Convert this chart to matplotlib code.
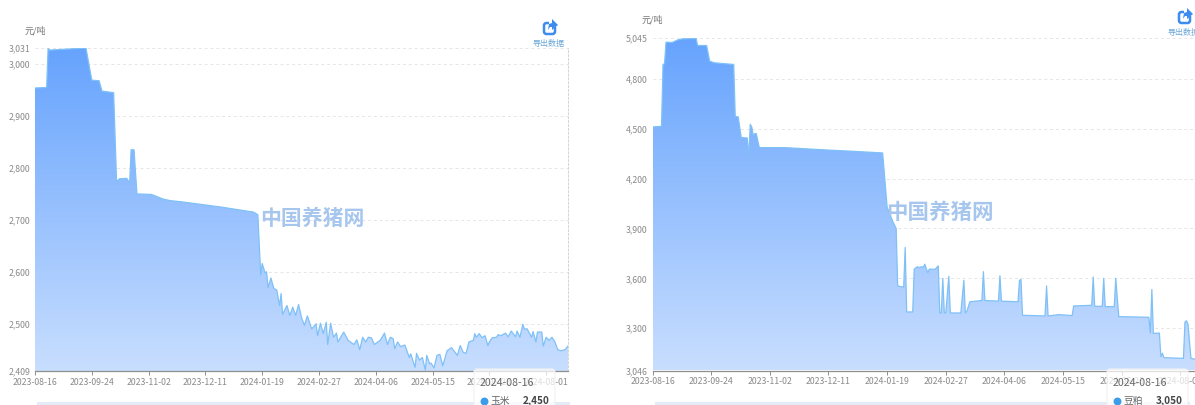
import numpy as np
import pandas as pd
import matplotlib
matplotlib.use("Agg")
import matplotlib.pyplot as plt
from matplotlib.colors import LinearSegmentedColormap
from matplotlib.patches import FancyBboxPatch, Polygon, Rectangle

plt.rcParams['font.family'] = ['Noto Sans CJK SC', 'DejaVu Sans']

W, H = 1195, 405

start = pd.Timestamp("2023-08-16")
tick_dates = ["2023-08-16", "2023-09-24", "2023-11-02", "2023-12-11", "2024-01-19",
              "2024-02-27", "2024-04-06", "2024-05-15", "2024-06-23", "2024-08-01"]

# corn, days since start and price
corn_days = [0, 8, 9, 10, 23, 35, 39, 44, 46, 54, 56, 58, 63, 65, 66, 68, 70, 80, 88, 93, 100, 127, 150, 153,
             155, 156, 158, 159, 160, 162, 164, 166, 168, 169, 170, 173, 175, 177, 179, 181, 183, 185, 187,
             190, 193, 194, 196, 198, 200, 201, 203, 205, 207, 208, 212, 215, 219, 221, 223, 225, 227, 229,
             231, 233, 237, 240, 242, 244, 246, 247, 249, 251, 254, 257, 258, 261, 262, 264, 266, 268, 269,
             271, 272, 274, 276, 278, 280, 283, 286, 290, 292, 294, 296, 298, 301, 302, 303, 305, 307, 309,
             311, 312, 314, 317, 318, 320, 323, 325, 327, 330, 331, 333, 335, 336, 338, 341, 342, 344, 345,
             348, 349, 351, 353, 355, 357, 359, 361, 364, 366]
corn_prices = [2954, 2955, 3030, 3027, 3029, 3031, 2969, 2968, 2948, 2945, 2774, 2779, 2780, 2771, 2835, 2835,
               2750, 2749, 2740, 2737, 2735, 2725, 2715, 2710,
               2594, 2616, 2598, 2600, 2570, 2588, 2568, 2565, 2535, 2558, 2518, 2535, 2516, 2532, 2516, 2537,
               2512, 2497, 2515, 2490, 2500, 2477, 2501, 2481, 2503, 2460, 2501, 2474, 2482, 2465, 2484, 2468,
               2460, 2469, 2450, 2474, 2465, 2474, 2473, 2460, 2468, 2482, 2460, 2474, 2471, 2452, 2465, 2456,
               2459, 2435, 2442, 2416, 2443, 2430, 2435, 2411, 2439, 2423, 2424, 2415, 2439, 2441, 2419, 2448,
               2454, 2439, 2458, 2445, 2443, 2465, 2468, 2481, 2474, 2481, 2473, 2477, 2458, 2465, 2473, 2474,
               2479, 2477, 2482, 2475, 2486, 2475, 2486, 2474, 2499, 2490, 2490, 2474, 2485, 2465, 2484, 2484,
               2457, 2474, 2468, 2474, 2465, 2450, 2448, 2450, 2457]
corn_ticks = [2409, 2500, 2600, 2700, 2800, 2900, 3000, 3031]

# soybean meal
meal_days = [0, 6, 7, 8, 9, 13, 17, 20, 29, 30, 36, 38, 41, 54, 55, 57, 59, 63, 64, 65, 66, 67, 68, 69, 71, 88,
             111, 133, 153, 156, 160, 162, 163, 167, 168, 169, 173, 174, 176, 177, 179, 180, 181, 183, 184, 188,
             190, 191, 192, 193, 194, 195, 197, 198, 205, 207, 208, 209, 211, 219, 220, 221, 230, 231, 232, 243,
             244, 245, 246, 261, 262, 263, 270, 279, 280, 292, 293, 294, 299, 300, 301, 307, 308, 310, 330, 331,
             332, 333, 337, 338, 339, 340, 353, 354, 355, 356, 358, 360, 365, 366]
meal_prices = [4510, 4514, 4886, 4890, 5020, 5018, 5034, 5040, 5042, 5000, 5000, 4906, 4896, 4886, 4574, 4570,
               4446, 4444, 4330, 4526, 4510, 4460, 4470, 4470, 4386, 4386, 4374, 4364, 4354, 4027, 3937, 3900,
               3554, 3547, 3786, 3398, 3398, 3655, 3670, 3665, 3670, 3665, 3685, 3634, 3655, 3655, 3675, 3392,
               3392, 3600, 3392, 3392, 3612, 3392, 3392, 3588, 3392, 3402, 3459, 3467, 3640, 3467, 3463, 3616,
               3463, 3459, 3588, 3594, 3378, 3374, 3554, 3374, 3382, 3376, 3434, 3438, 3608, 3432, 3432, 3600,
               3430, 3430, 3600, 3370, 3366, 3271, 3533, 3269, 3271, 3129, 3150, 3123, 3119, 3337, 3345, 3325,
               3119, 3115, 3115, 3050]
meal_ticks = [3046, 3300, 3600, 3900, 4200, 4500, 4800, 5045]

tick_days = [(pd.Timestamp(d) - start).days for d in tick_dates]
grad = LinearSegmentedColormap.from_list("g", ["#c8deff", "#66a3fd"])
LABEL = "#8a8a8a"


def draw_panel(fig, box, days, prices, yticks):
    # box is left, top, right, bottom in pixels
    l, t, r, b = box
    ax = fig.add_axes([l / W, 1 - b / H, (r - l) / W, (b - t) / H])
    ax.set_xlim(0, 366)
    ax.set_ylim(yticks[0], yticks[-1])
    for s in ["top", "left"]:
        ax.spines[s].set_visible(False)
    ax.spines["right"].set_color("#d4d4d4")
    ax.spines["right"].set_linestyle((0, (2, 2)))
    ax.spines["right"].set_linewidth(0.7)
    ax.spines["bottom"].set_color("#8f8f8f")
    ax.spines["bottom"].set_linewidth(0.9)

    ax.set_yticks(yticks)
    ax.set_yticklabels([f"{v:,}" for v in yticks])
    ax.set_xticks(tick_days)
    ax.set_xticklabels(tick_dates)
    ax.tick_params(axis="y", length=0, pad=3.5, labelsize=6.3, labelcolor=LABEL)
    ax.tick_params(axis="x", length=3, width=0.7, color="#8f8f8f", pad=2, labelsize=6.3, labelcolor=LABEL)
    ax.grid(axis="y", color="#e6e6e6", linestyle=(0, (3, 3)), linewidth=0.7)
    ax.set_axisbelow(True)

    poly = ax.fill_between(days, prices, yticks[0], facecolor="none", edgecolor="none")
    img = ax.imshow(np.linspace(0, 1, 256)[:, None], cmap=grad, origin="lower", aspect="auto",
                    extent=(0, 366, yticks[0], max(prices)), zorder=2)
    img.set_clip_path(poly.get_paths()[0], transform=ax.transData)
    ax.set_xlim(0, 366)
    ax.set_ylim(yticks[0], yticks[-1])
    ax.plot(days, prices, color="#7fc1f6", linewidth=0.9, zorder=3)
    return ax


def export_icon(ov, cx, cy, text_x):
    # share icon and label, top right of each chart
    ov.add_patch(FancyBboxPatch((cx - 6, cy - 4), 11, 11, boxstyle="round,pad=0,rounding_size=2.5",
                                fc="white", ec="#3f8cf0", lw=1.8))
    ov.add_patch(Rectangle((cx - 1, cy - 8), 9, 8, fc="white", ec="none"))
    ov.add_patch(Polygon([(cx - 2, cy + 3), (cx - 1, cy - 3), (cx + 2, cy - 4), (cx + 2, cy - 8), (cx + 8, cy - 2),
                          (cx + 2, cy + 3), (cx + 2, cy), (cx, cy)], fc="#3f8cf0", ec="none"))
    ov.text(text_x, cy + 16.5, "导出数据", color="#6aa6d8", fontsize=5.8, ha="left", va="center")


def tooltip(ov, x0, date, name, value):
    ov.add_patch(FancyBboxPatch((x0, 369), 81, 50, boxstyle="round,pad=0,rounding_size=3",
                                fc=(1, 1, 1, 0.72), ec="#f1f1f1", lw=0.8, zorder=5))
    ov.text(x0 + 6, 383, date, color="#666666", fontsize=7.6, ha="left", va="center", zorder=6)
    ov.scatter([x0 + 10], [401], s=22, color="#3d9ce8", zorder=6)
    ov.text(x0 + 17, 401, name, color="#666666", fontsize=7, ha="left", va="center", zorder=6)
    ov.text(x0 + 49, 401, value, color="#444444", fontsize=7.2, weight="bold", ha="left", va="center", zorder=6)


fig = plt.figure(figsize=(W / 100, H / 100), dpi=100, facecolor="white")

draw_panel(fig, (35, 48, 568, 371), corn_days, corn_prices, corn_ticks)
draw_panel(fig, (652.5, 38, 1203, 370.5), meal_days, meal_prices, meal_ticks)

# pixel overlay for watermark, tooltip etc
ov = fig.add_axes([0, 0, 1, 1], facecolor="none")
ov.set_xlim(0, W)
ov.set_ylim(H, 0)
ov.axis("off")

ov.text(35, 30.5, "元/吨", color="#777777", fontsize=6.5, ha="center", va="center")
ov.text(652, 20, "元/吨", color="#777777", fontsize=6.5, ha="center", va="center")

ov.text(312, 218.5, "中国养猪网", color="#a7c6ee", fontsize=15, weight="bold", ha="center", va="center")
ov.text(939.5, 212.5, "中国养猪网", color="#a7c6ee", fontsize=15.5, weight="bold", ha="center", va="center")

ov.add_patch(Rectangle((37, 402), 533, 4, fc="#e3ebf7", ec="none"))
ov.add_patch(Rectangle((655, 402), 535, 4, fc="#e3ebf7", ec="none"))

export_icon(ov, 550, 27, 533)
export_icon(ov, 1185, 16, 1168)

tooltip(ov, 474, "2024-08-16", "玉米", "2,450")
tooltip(ov, 1107, "2024-08-16", "豆粕", "3,050")

fig.savefig("out.png", dpi=100)
